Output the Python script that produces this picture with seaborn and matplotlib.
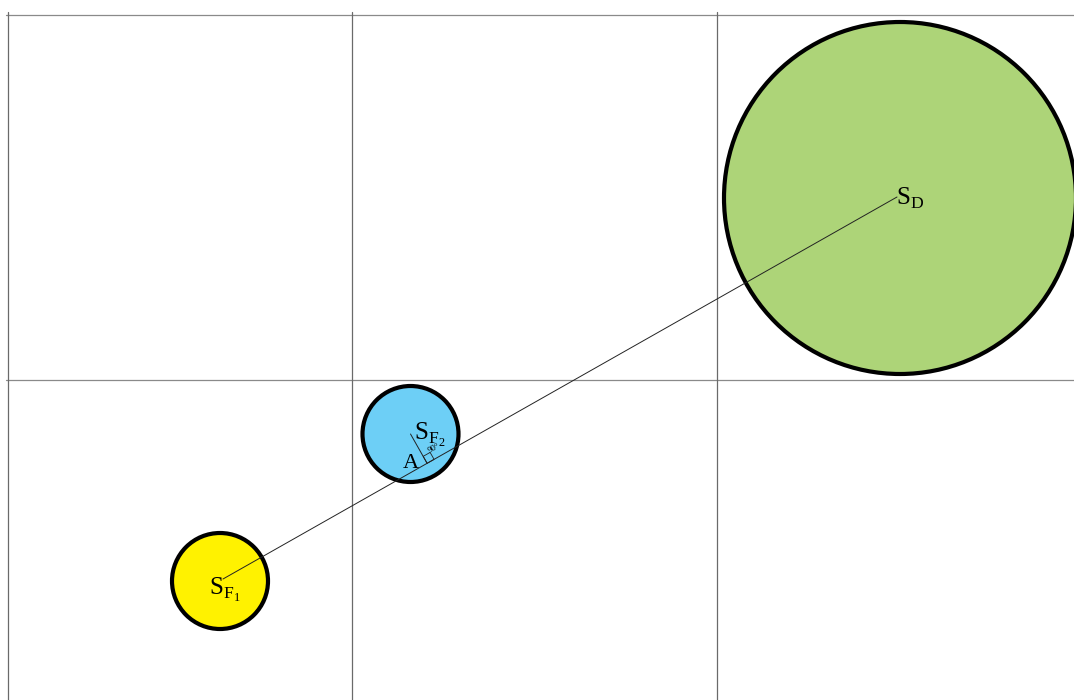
import numpy as np
import pandas as pd
import matplotlib
matplotlib.use("Agg")
import matplotlib.pyplot as plt
import seaborn as sns
from matplotlib.patches import Circle, Polygon

# ---- data (diagram coordinates, pixel-like units) ----
grid_x = [8, 352, 717]
grid_y = [14.5, 380]
circle_names = ["S_F1", "S_F2", "S_D"]
circle_cx = [220, 410.5, 900]
circle_cy = [581, 434, 198]
circle_r = [48, 48, 176]
circle_colors = ["#FFF200", "#6DCFF6", "#ADD478"]
line_x = [223, 897]
line_y = [579, 197]
labels = [r"$\mathrm{S}_{\mathrm{F}_1}$", r"$\mathrm{S}_{\mathrm{F}_2}$", r"$\mathrm{S}_{\mathrm{D}}$"]
label_x = [209, 414, 896]
label_y = [590, 435, 198]

sns.set_theme(style="white")
plt.rcParams["mathtext.fontset"] = "custom"
plt.rcParams["mathtext.rm"] = "Liberation Serif"
plt.rcParams["font.family"] = ["Liberation Serif", "DejaVu Serif"]
plt.rcParams["text.color"] = "black"

W, H = 1074, 700
fig = plt.figure(figsize=(W / 100, H / 100), dpi=100)
ax = fig.add_axes([0, 0, 1, 1])

# grid lines
for gy in grid_y:
    ax.plot([6, W], [gy, gy], color="#8a8a8a", lw=0.9, zorder=1)
for gx in grid_x:
    ax.plot([gx, gx], [12, H], color="#6a6a6a", lw=0.9, zorder=1)

# circles
for cx, cy, r, c in zip(circle_cx, circle_cy, circle_r, circle_colors):
    ax.add_patch(Circle((cx, cy), r, facecolor=c, edgecolor="black", lw=3.0, zorder=2))

# connecting line
df = pd.DataFrame({"x": line_x, "y": line_y})
sns.lineplot(data=df, x="x", y="y", ax=ax, color="#222222", lw=0.7, zorder=3)
ax.set_xlim(0, W)
ax.set_ylim(H, 0)
ax.set_axis_off()

# perpendicular from S_F2 to line
p0 = np.array([line_x[0], line_y[0]], float)
p1 = np.array([line_x[1], line_y[1]], float)
u = (p1 - p0) / np.linalg.norm(p1 - p0)
c2 = np.array([circle_cx[1], circle_cy[1]], float)
foot = p0 + np.dot(c2 - p0, u) * u
ax.plot([c2[0], foot[0]], [c2[1], foot[1]], color="#222222", lw=0.7, zorder=3)
n = (c2 - foot) / np.linalg.norm(c2 - foot)
s = 8
sq = [foot, foot + s * u, foot + s * u + s * n, foot + s * n]
ax.add_patch(Polygon(sq, closed=True, fill=False, edgecolor="#222222", lw=0.6, zorder=3))
ang = np.degrees(np.arctan2(-(p1 - p0)[1], (p1 - p0)[0]))
tpos = foot + 14 * u + 10 * n
ax.text(tpos[0], tpos[1], "90°", fontsize=6.5, rotation=ang, ha="center", va="center",
        rotation_mode="anchor", color="black", zorder=4)
ax.text(foot[0] - 8, foot[1] + 0.5, "A", fontsize=16, ha="right", va="center",
        color="black", zorder=4)

# labels
for lx, ly, t in zip(label_x, label_y, labels):
    ax.text(lx, ly, t, fontsize=18, ha="left", va="center", color="black", zorder=4)

fig.savefig("out.png", dpi=100)
